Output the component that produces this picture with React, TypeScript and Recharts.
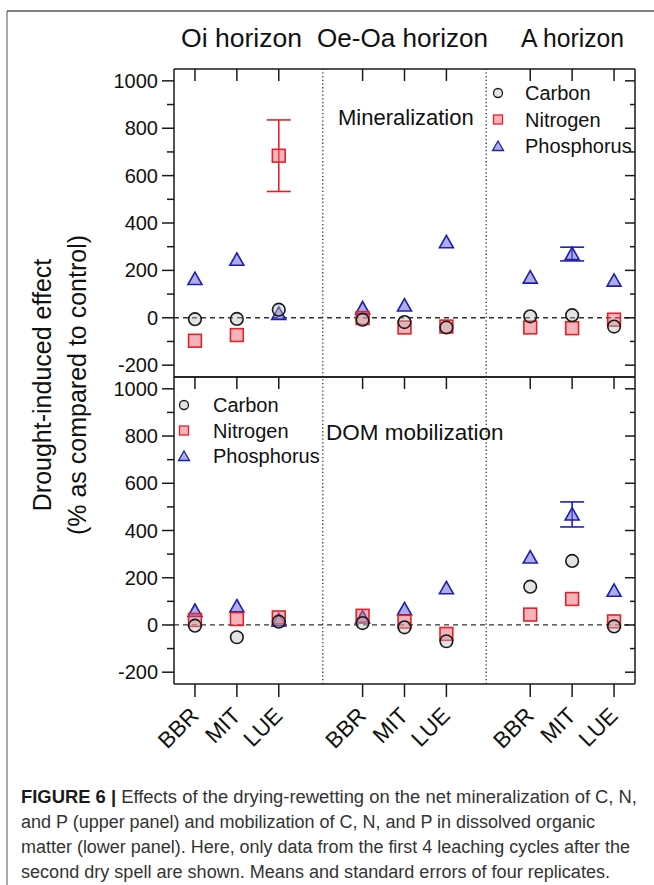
import React from "react";
import { ScatterChart, Scatter, XAxis, YAxis, ReferenceLine, ErrorBar } from "recharts";

// ---------- data ----------
const horizons = ["Oi horizon", "Oe-Oa horizon", "A horizon"];
const sites = ["BBR", "MIT", "LUE"];
const xCategoryPositions = [0.5, 1.5, 2.5, 4.5, 5.5, 6.5, 8.5, 9.5, 10.5];
const xTickLabels = ["BBR", "MIT", "LUE", "BBR", "MIT", "LUE", "BBR", "MIT", "LUE"];
const horizonDividers = [3.55, 7.45];
const xDomain = [0, 11];
const yDomain = [-250, 1050];
const yMajorTicks = [-200, 0, 200, 400, 600, 800, 1000];
const yAllTicks = [-200, -100, 0, 100, 200, 300, 400, 500, 600, 700, 800, 900, 1000];
const seriesNames = ["Carbon", "Nitrogen", "Phosphorus"];
const panelLabels = ["Mineralization", "DOM mobilization"];

// Upper panel: net mineralization
const minCarbon = [-6, -5, 34, -8, -18, -41, 6, 11, -37];
const minNitrogen = [-97, -73, 684, -1, -41, -37, -41, -44, -8];
const minNitrogenErr = [0, 0, 151, 0, 0, 0, 0, 0, 0];
const minPhosphorus = [164, 245, 17, 40, 52, 319, 170, 269, 157];
const minPhosphorusErr = [0, 0, 0, 0, 0, 0, 0, 29, 0];

// Lower panel: DOM mobilization
const domCarbon = [-3, -52, 14, 8, -10, -69, 162, 271, -6];
const domNitrogen = [21, 25, 32, 39, 14, -38, 44, 110, 15];
const domNitrogenErr = [0, 0, 0, 0, 0, 0, 0, 0, 0];
const domPhosphorus = [60, 79, 20, 32, 67, 156, 286, 468, 145];
const domPhosphorusErr = [0, 0, 0, 0, 0, 0, 0, 53, 0];

const captionLines = [
  ["FIGURE 6 |", " Effects of the drying-rewetting on the net mineralization of C, N,"],
  ["", "and P (upper panel) and mobilization of C, N, and P in dissolved organic"],
  ["", "matter (lower panel). Here, only data from the first 4 leaching cycles after the"],
  ["", "second dry spell are shown. Means and standard errors of four replicates."],
];

// ---------- styles ----------
const FONT = "'Liberation Sans', Arial, Helvetica, sans-serif";
const AXIS = "#1a1a1a";
const C_STROKE = "#1a1a1a";
const C_FILL = "#bdbdbd";
const N_STROKE = "#e5202a";
const N_FILL = "#ec6a74";
const P_STROKE = "#1f1fae";
const P_FILL = "#6a6ad8";

const toPoints = (vals: number[], errs?: number[]) =>
  xCategoryPositions.map((x, i) => ({ x, y: vals[i], err: errs ? errs[i] : 0 }));

const CircleShape = (p: any) => (
  <circle cx={p.cx} cy={p.cy} r={6.3} fill={C_FILL} fillOpacity={0.42} stroke={C_STROKE} strokeWidth={1.6} />
);
const SquareShape = (p: any) => (
  <rect x={p.cx - 6.4} y={p.cy - 6.4} width={12.8} height={12.8} fill={N_FILL} fillOpacity={0.5} stroke={N_STROKE} strokeWidth={1.6} />
);
const TriangleShape = (p: any) => (
  <path
    d={`M${p.cx},${p.cy - 6.8} L${p.cx + 7},${p.cy + 5.6} L${p.cx - 7},${p.cy + 5.6} Z`}
    fill={P_FILL}
    fillOpacity={0.55}
    stroke={P_STROKE}
    strokeWidth={1.6}
  />
);

function LeftTick(props: any) {
  const { x, y, payload } = props;
  const v = payload.value as number;
  const major = yMajorTicks.includes(v);
  return (
    <g>
      <line x1={x - (major ? 12 : 7)} y1={y} x2={x} y2={y} stroke={AXIS} strokeWidth={1.5} />
      {major && (
        <text x={x - 16} y={y + 7} textAnchor="end" fontSize={20} fontFamily={FONT} fill="#111">
          {String(v)}
        </text>
      )}
    </g>
  );
}

function RightTick(props: any) {
  const { x, y, payload } = props;
  const major = yMajorTicks.includes(payload.value);
  return <line x1={x - (major ? 10 : 5)} y1={y} x2={x} y2={y} stroke={AXIS} strokeWidth={1.5} />;
}

// Tick renderer of the bottom x axis: draws the inward tick on the panel's top edge,
// and (lower panel only) the outward tick with its rotated label.
function CategoryTick(props: any) {
  const { x, y, payload, panelTop, showLabels } = props;
  const idx = xCategoryPositions.indexOf(payload.value);
  const label = xTickLabels[idx] ?? "";
  const ex = x + 5;
  const ey = y + 33;
  return (
    <g>
      <line x1={x} y1={panelTop} x2={x} y2={panelTop + 12} stroke={AXIS} strokeWidth={1.5} />
      {showLabels && (
        <>
          <line x1={x} y1={y} x2={x} y2={y + 13} stroke={AXIS} strokeWidth={1.5} />
          <text
            x={ex}
            y={ey}
            transform={`rotate(-45 ${ex} ${ey})`}
            textAnchor="end"
            fontSize={22.5}
            fontFamily={FONT}
            fill="#111"
          >
            {label}
          </text>
        </>
      )}
    </g>
  );
}

type PanelProps = {
  carbon: number[];
  nitrogen: number[];
  nitrogenErr: number[];
  phosphorus: number[];
  phosphorusErr: number[];
  top: number;
  bottom: number;
  showBottomLabels: boolean;
};

function Panel({ carbon, nitrogen, nitrogenErr, phosphorus, phosphorusErr, top, bottom, showBottomLabels }: PanelProps) {
  const axisLine = { stroke: AXIS, strokeWidth: 1.5 };
  return (
    <div style={{ position: "absolute", left: 0, top: 0 }}>
      <ScatterChart width={654} height={885} margin={{ top: top - 1, right: 18, bottom: 885 - bottom - 1, left: 114 }}>
        <XAxis
          dataKey="x"
          type="number"
          domain={xDomain}
          ticks={xCategoryPositions}
          interval={0}
          height={1}
          tickSize={0}
          tickMargin={0}
          tickLine={false}
          axisLine={axisLine}
          tick={(p: any) => <CategoryTick {...p} panelTop={top} showLabels={showBottomLabels} />}
          allowDataOverflow
        />
        <XAxis
          xAxisId="top"
          orientation="top"
          type="number"
          domain={xDomain}
          ticks={xCategoryPositions}
          interval={0}
          height={1}
          tickSize={0}
          tickMargin={0}
          tickLine={false}
          axisLine={axisLine}
          tick={false}
          allowDataOverflow
        />
        <YAxis
          dataKey="y"
          type="number"
          domain={yDomain}
          ticks={yAllTicks}
          interval={0}
          width={60}
          tickSize={0}
          tickMargin={0}
          tickLine={false}
          axisLine={axisLine}
          tick={(p: any) => <LeftTick {...p} />}
          allowDataOverflow
        />
        <YAxis
          yAxisId="r"
          orientation="right"
          type="number"
          domain={yDomain}
          ticks={yAllTicks}
          interval={0}
          width={1}
          tickSize={0}
          tickMargin={0}
          tickLine={false}
          axisLine={axisLine}
          tick={(p: any) => <RightTick {...p} />}
          allowDataOverflow
        />
        {horizonDividers.map((d) => (
          <ReferenceLine key={d} x={d} stroke="#333" strokeDasharray="1.3 2.4" strokeWidth={1.3} />
        ))}
        <ReferenceLine y={0} stroke="#333" strokeDasharray="5 4" strokeWidth={1.3} />
        <Scatter name={seriesNames[2]} data={toPoints(phosphorus, phosphorusErr)} shape={TriangleShape} isAnimationActive={false}>
          <ErrorBar dataKey="err" direction="y" width={12} stroke={P_STROKE} strokeWidth={1.6} />
        </Scatter>
        <Scatter name={seriesNames[1]} data={toPoints(nitrogen, nitrogenErr)} shape={SquareShape} isAnimationActive={false}>
          <ErrorBar dataKey="err" direction="y" width={12} stroke={N_STROKE} strokeWidth={1.6} />
        </Scatter>
        <Scatter name={seriesNames[0]} data={toPoints(carbon)} shape={CircleShape} isAnimationActive={false} />
      </ScatterChart>
    </div>
  );
}

function LegendBlock({ x, y, textX, spacing }: { x: number; y: number; textX: number; spacing: number }) {
  return (
    <g fontFamily={FONT} fontSize={20} fill="#111">
      <circle cx={x} cy={y} r={4.5} fill={C_FILL} fillOpacity={0.42} stroke={C_STROKE} strokeWidth={1.3} />
      <text x={textX} y={y + 7}>{seriesNames[0]}</text>
      <rect x={x - 4.5} y={y + spacing - 4.5} width={9} height={9} fill={N_FILL} fillOpacity={0.5} stroke={N_STROKE} strokeWidth={1.3} />
      <text x={textX} y={y + spacing + 7}>{seriesNames[1]}</text>
      <path
        d={`M${x},${y + 2 * spacing - 5} L${x + 5.5},${y + 2 * spacing + 4.5} L${x - 5.5},${y + 2 * spacing + 4.5} Z`}
        fill={P_FILL}
        fillOpacity={0.55}
        stroke={P_STROKE}
        strokeWidth={1.3}
      />
      <text x={textX} y={y + 2 * spacing + 7}>{seriesNames[2]}</text>
    </g>
  );
}

function Overlay() {
  const captionWidths = [616, 574, 609, 589];
  const captionY = [803, 828, 853, 878];
  const titleX = [181, 317, 521];
  const titleW = [121, 171, 103];
  return (
    <svg width={654} height={885} style={{ position: "absolute", left: 0, top: 0, pointerEvents: "none" }}>
      <line x1={7} y1={11} x2={7} y2={885} stroke="#8a8a8a" strokeWidth={1.5} />
      <line x1={7} y1={11} x2={654} y2={11} stroke="#555" strokeWidth={1.5} />
      {horizons.map((h, i) => (
        <text key={h} x={titleX[i]} y={47} fontSize={26} fontFamily={FONT} fill="#111" textLength={titleW[i]} lengthAdjust="spacingAndGlyphs">
          {h}
        </text>
      ))}
      <g fontFamily={FONT} fontSize={25} fill="#111" textAnchor="middle">
        <text x={51} y={385} transform="rotate(-90 51 385)">
          Drought-induced effect
        </text>
        <text x={86} y={385} transform="rotate(-90 86 385)">
          (% as compared to control)
        </text>
      </g>
      <text x={338} y={125} fontSize={22} fontFamily={FONT} fill="#111">{panelLabels[0]}</text>
      <text x={326} y={440} fontSize={22.5} fontFamily={FONT} fill="#111">{panelLabels[1]}</text>
      <LegendBlock x={498} y={93} textX={525} spacing={26.5} />
      <LegendBlock x={184} y={405} textX={213} spacing={25.5} />
      {captionLines.map((ln, i) => (
        <text
          key={i}
          x={21}
          y={captionY[i]}
          fontSize={18}
          fontFamily={FONT}
          fill="#333"
          textLength={captionWidths[i]}
          lengthAdjust="spacingAndGlyphs"
        >
          {ln[0] && <tspan fontWeight="bold" fill="#1a1a1a">{ln[0]}</tspan>}
          {ln[1]}
        </text>
      ))}
    </svg>
  );
}

export default function App() {
  return (
    <div style={{ position: "absolute", left: 0, top: 0, width: 654, height: 885, background: "#fff", fontFamily: FONT }}>
      <Panel
        carbon={minCarbon}
        nitrogen={minNitrogen}
        nitrogenErr={minNitrogenErr}
        phosphorus={minPhosphorus}
        phosphorusErr={minPhosphorusErr}
        top={69}
        bottom={377}
        showBottomLabels={false}
      />
      <Panel
        carbon={domCarbon}
        nitrogen={domNitrogen}
        nitrogenErr={domNitrogenErr}
        phosphorus={domPhosphorus}
        phosphorusErr={domPhosphorusErr}
        top={377}
        bottom={684}
        showBottomLabels={true}
      />
      <Overlay />
    </div>
  );
}
